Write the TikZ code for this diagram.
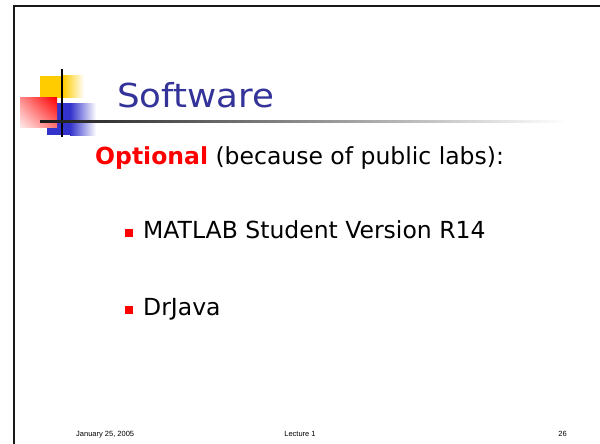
\documentclass[tikz,border=0pt]{standalone}
\usepackage{fontspec}
\usetikzlibrary{shadings}
\setmainfont{DejaVu Sans}
\newfontfamily\footfont{Liberation Sans}
\definecolor{titleblue}{HTML}{333399}
\definecolor{logoyellow}{HTML}{FFCC00}
\definecolor{logoblue}{HTML}{3333CC}
\begin{document}
\begin{tikzpicture}[x=1pt,y=-1pt,
  bodytext/.style={anchor=base west,inner sep=0pt,font=\fontsize{23.5}{27}\selectfont},
  foottext/.style={inner sep=0pt,font=\footfont\fontsize{7.5}{9}\selectfont},
  bulletbox/.style={fill=red,draw=none,minimum size=8pt,inner sep=0pt}]
\useasboundingbox (0,0) rectangle (600,444);
\fill[white] (0,0) rectangle (600,444);
% frame
\draw[line width=2.2pt,black!90] (13,6) -- (600,6);
\draw[line width=2.2pt,black!90] (14,5) -- (14,444);
% logo
\fill[logoyellow] (40,76) rectangle (63,98);
\shade[left color=logoyellow,right color=white] (63,76) rectangle (84,98);
\fill[logoblue] (47,103) rectangle (70,135);
\shade[left color=logoblue,right color=white] (70,103) rectangle (96,135);
\shade[upper right=red,upper left=red!45,lower left=red!8,lower right=red!55] (20,98) rectangle (57,127);
\draw[line width=2pt,black] (62,69) -- (62,137);
\shade[left color=black!90,right color=white] (40,120) rectangle (566,122.5);
% title
\node[anchor=base west,inner sep=0pt,text=titleblue,font=\fontsize{33}{38}\selectfont] (title) at (117,107) {\scalebox{1.08}[1]{Software}};
% body
\node[bodytext] (opt) at (95,164) {\textcolor{red}{\textbf{Optional}} (because of public labs):};
\node[bulletbox] (b1) at (129,233) {};
\node[bodytext] (matlab) at (143,238) {MATLAB Student Version R14};
\node[bulletbox] (b2) at (129,309.5) {};
\node[bodytext] (drjava) at (143,315) {DrJava};
% footer
\node[foottext,anchor=base west] (date) at (76,436) {January 25, 2005};
\node[foottext,anchor=base] (lect) at (300,436) {Lecture 1};
\node[foottext,anchor=base east] (page) at (567,436) {26};
\end{tikzpicture}
\end{document}
